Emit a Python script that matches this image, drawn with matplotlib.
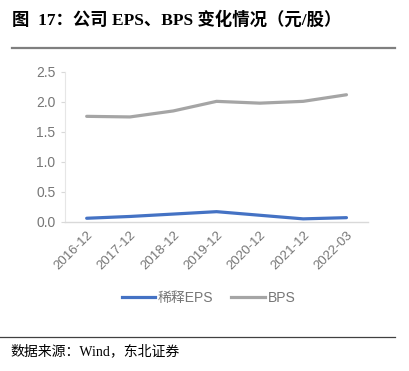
import matplotlib.pyplot as plt
from matplotlib.lines import Line2D

plt.rcParams['font.family'] = ['Liberation Sans', 'Noto Sans CJK SC']

periods = ["2016-12", "2017-12", "2018-12", "2019-12", "2020-12", "2021-12", "2022-03"]
eps = [0.06, 0.09, 0.13, 0.17, 0.11, 0.05, 0.07]
bps = [1.76, 1.75, 1.85, 2.01, 1.98, 2.01, 2.12]

fig = plt.figure(figsize=(4.09, 3.71), dpi=100)
ax = fig.add_axes([0.159, 0.402, 0.741, 0.404])

x = range(len(periods))
ax.plot(x, eps, color="#4472C4", linewidth=2.3, solid_capstyle="round", label="稀释EPS")
ax.plot(x, bps, color="#A5A5A5", linewidth=2.3, solid_capstyle="round", label="BPS")

ax.set_xlim(-0.5, len(periods) - 0.5)
ax.set_ylim(0, 2.5)
ax.set_yticks([0, 0.5, 1.0, 1.5, 2.0, 2.5])
ax.set_yticklabels([f"{v:.1f}" for v in [0, 0.5, 1.0, 1.5, 2.0, 2.5]])
ax.set_xticks(list(x))
ax.set_xticklabels(periods, rotation=45, ha="right", rotation_mode="anchor")

for s in ("top", "right"):
    ax.spines[s].set_visible(False)
ax.spines["left"].set_color("#E6E6E6")
ax.spines["bottom"].set_color("#D9D9D9")
ax.spines["bottom"].set_linewidth(1.0)
ax.tick_params(axis="y", colors="#D9D9D9", labelcolor="#767676", labelsize=10, length=3, pad=4)
ax.tick_params(axis="x", length=0, labelcolor="#767676", labelsize=9.5, pad=5)

handles = [Line2D([], [], color="#4472C4", linewidth=2.3),
           Line2D([], [], color="#A5A5A5", linewidth=2.3)]
fig.legend(handles, ["稀释EPS", "BPS"], loc="center", bbox_to_anchor=(0.51, 0.197),
           ncol=2, frameon=False, labelcolor="#767676",
           handlelength=2.4, handletextpad=0.2, columnspacing=1.3,
           prop={'family': ['Liberation Sans', 'Noto Sans CJK SC'], 'size': 10})

fig.text(0.03, 0.946, "图  17：公司 EPS、BPS 变化情况（元/股）", fontsize=12.5, fontweight="bold",
         va="center", ha="left", family=['Liberation Serif', 'Noto Sans CJK SC'])
fig.add_artist(Line2D([0.03, 0.966], [0.871, 0.871], color="#7F7F7F", linewidth=1.6))
fig.add_artist(Line2D([0.0, 0.966], [0.092, 0.092], color="#404040", linewidth=0.9))
fig.text(0.025, 0.052, "数据来源：Wind，东北证券", fontsize=10, va="center", ha="left",
         family=['Liberation Serif', 'Noto Sans CJK SC'])

fig.savefig("out.png", dpi=100)
